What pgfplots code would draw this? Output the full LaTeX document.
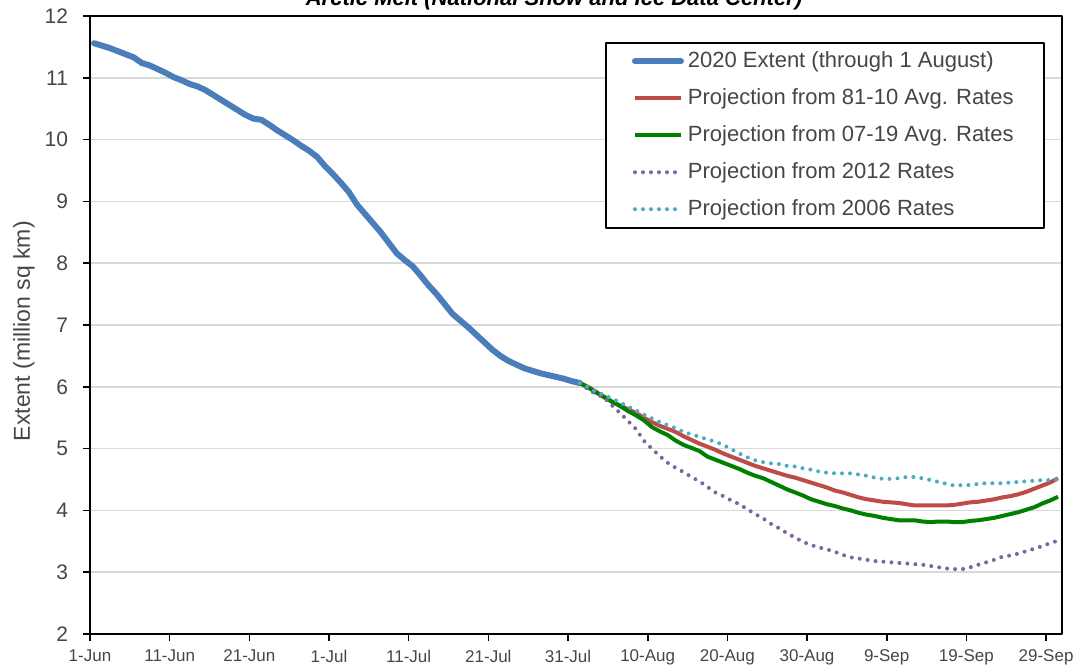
\documentclass[border=0pt]{standalone}
\usepackage{fontspec}
\setmainfont{Liberation Sans}
\usepackage{pgfplots}
\pgfplotsset{compat=1.18}
\usepackage{pgfplotstable}
\definecolor{cblue}{RGB}{74,126,187}
\definecolor{cred}{RGB}{190,75,72}
\definecolor{cgreen}{RGB}{0,128,0}
\definecolor{cpurple}{RGB}{128,100,162}
\definecolor{ccyan}{RGB}{75,172,198}
\definecolor{gridgray}{RGB}{217,217,217}
\definecolor{textgray}{RGB}{70,70,70}

\pgfplotstableread{
day val
0 11.56
1 11.52
2 11.48
3 11.43
4 11.38
5 11.33
6 11.24
7 11.20
8 11.14
9 11.08
10 11.01
11 10.96
12 10.90
13 10.86
14 10.80
15 10.72
16 10.64
17 10.56
18 10.48
19 10.40
20 10.34
21 10.32
22 10.24
23 10.15
24 10.07
25 9.99
26 9.90
27 9.82
28 9.72
29 9.57
30 9.44
31 9.30
32 9.15
33 8.95
34 8.80
35 8.65
36 8.50
37 8.33
38 8.16
39 8.05
40 7.95
41 7.80
42 7.64
43 7.50
44 7.34
45 7.18
46 7.07
47 6.96
48 6.84
49 6.72
50 6.60
51 6.50
52 6.42
53 6.36
54 6.30
55 6.26
56 6.22
57 6.19
58 6.16
59 6.13
60 6.09
61 6.06
}\extent

\pgfplotstableread{
day val
61 6.06
62 6.00
63 5.92
64 5.83
65 5.76
66 5.70
67 5.64
68 5.58
69 5.50
70 5.43
71 5.37
72 5.32
73 5.27
74 5.20
75 5.14
76 5.08
77 5.03
78 4.98
79 4.92
80 4.87
81 4.82
82 4.77
83 4.72
84 4.68
85 4.64
86 4.60
87 4.56
88 4.53
89 4.49
90 4.45
91 4.41
92 4.37
93 4.32
94 4.29
95 4.25
96 4.21
97 4.18
98 4.16
99 4.14
100 4.13
101 4.12
102 4.10
103 4.08
104 4.08
105 4.08
106 4.08
107 4.08
108 4.09
109 4.11
110 4.13
111 4.14
112 4.16
113 4.18
114 4.21
115 4.23
116 4.26
117 4.30
118 4.35
119 4.40
120 4.45
121 4.52
}\avgA

\pgfplotstableread{
day val
61 6.06
62 5.99
63 5.91
64 5.84
65 5.76
66 5.69
67 5.61
68 5.54
69 5.46
70 5.35
71 5.28
72 5.22
73 5.13
74 5.06
75 5.01
76 4.96
77 4.87
78 4.82
79 4.77
80 4.72
81 4.67
82 4.61
83 4.56
84 4.52
85 4.46
86 4.40
87 4.34
88 4.29
89 4.24
90 4.18
91 4.14
92 4.10
93 4.07
94 4.03
95 4.00
96 3.96
97 3.93
98 3.91
99 3.88
100 3.86
101 3.84
102 3.84
103 3.84
104 3.82
105 3.81
106 3.82
107 3.82
108 3.81
109 3.81
110 3.83
111 3.84
112 3.86
113 3.88
114 3.91
115 3.94
116 3.97
117 4.01
118 4.05
119 4.11
120 4.16
121 4.22
}\avgB

\pgfplotstableread{
day val
61 6.06
62 5.96
63 5.88
64 5.83
65 5.70
66 5.58
67 5.45
68 5.32
69 5.13
70 5.00
71 4.88
72 4.77
73 4.69
74 4.62
75 4.54
76 4.47
77 4.38
78 4.29
79 4.23
80 4.16
81 4.10
82 4.02
83 3.94
84 3.87
85 3.78
86 3.71
87 3.63
88 3.56
89 3.49
90 3.44
91 3.40
92 3.37
93 3.33
94 3.28
95 3.24
96 3.22
97 3.20
98 3.18
99 3.17
100 3.16
101 3.15
102 3.14
103 3.13
104 3.12
105 3.10
106 3.08
107 3.06
108 3.05
109 3.05
110 3.08
111 3.12
112 3.16
113 3.20
114 3.25
115 3.27
116 3.30
117 3.34
118 3.38
119 3.42
120 3.47
121 3.51
}\rateA

\pgfplotstableread{
day val
61 6.06
62 6.00
63 5.92
64 5.87
65 5.81
66 5.75
67 5.68
68 5.62
69 5.55
70 5.49
71 5.43
72 5.38
73 5.33
74 5.27
75 5.23
76 5.19
77 5.15
78 5.11
79 5.06
80 4.99
81 4.92
82 4.86
83 4.81
84 4.78
85 4.76
86 4.75
87 4.72
88 4.71
89 4.68
90 4.66
91 4.63
92 4.61
93 4.60
94 4.60
95 4.60
96 4.58
97 4.56
98 4.53
99 4.51
100 4.51
101 4.52
102 4.54
103 4.54
104 4.52
105 4.49
106 4.46
107 4.43
108 4.40
109 4.41
110 4.41
111 4.43
112 4.44
113 4.44
114 4.44
115 4.45
116 4.46
117 4.47
118 4.48
119 4.49
120 4.49
121 4.50
}\rateB

\begin{document}
\begin{tikzpicture}
\path[use as bounding box] (0,0) rectangle (542pt,334pt);
\begin{axis}[
  at={(45pt,17pt)}, anchor=south west,
  scale only axis, width=486pt, height=309pt,
  xmin=-0.5, xmax=121.5, ymin=2, ymax=12,
  ytick={2,3,...,12},
  xtick={-0.5,9.5,19.5,29.5,39.5,49.5,59.5,69.5,79.5,89.5,99.5,109.5,119.5},
  xticklabels={1-Jun,11-Jun,21-Jun,1-Jul,11-Jul,21-Jul,31-Jul,10-Aug,20-Aug,30-Aug,9-Sep,19-Sep,29-Sep},
  ymajorgrids, grid style={draw=gridgray, line width=0.75pt},
  axis line style={black, line width=1pt},
  tick align=outside, major tick length=3.5pt,
  tick style={black, line width=0.8pt},
  xtick pos=bottom, ytick pos=left,
  /pgf/number format/assume math mode=true,
  yticklabel style={font=\fontsize{10.5}{13}\selectfont, text=textgray, xshift=-4pt},
  xticklabel style={font=\fontsize{8.5}{10}\selectfont, text=textgray, yshift=-1pt},
  ylabel={Extent (million sq km)},
  ylabel style={font=\fontsize{11.5}{13}\selectfont, text=textgray, at={(axis description cs:-0.068,0.49)}, anchor=center},
  legend style={at={(axis description cs:0.5298,0.958)}, anchor=north west, draw=black, line width=1pt,
     font=\fontsize{11}{13}\selectfont, text=textgray, row sep=5pt, inner xsep=13pt, inner ysep=2.5pt},
  legend cell align=left,
  legend image code/.code={\draw[#1] (0pt,0pt) -- (23pt,0pt);},
  line join=round,
]
\addplot[cblue, line width=3pt, line cap=round] table[x=day,y=val] {\extent};
\addlegendentry{2020 Extent (through 1 August)}
\addplot[cred, line width=2pt] table[x=day,y=val] {\avgA};
\addlegendentry{Projection from 81-10 Avg. Rates}
\addplot[cgreen, line width=2pt] table[x=day,y=val] {\avgB};
\addlegendentry{Projection from 07-19 Avg. Rates}
\addplot[cpurple, line width=2pt, line cap=round, dash pattern=on 0pt off 4pt] table[x=day,y=val] {\rateA};
\addlegendentry{Projection from 2012 Rates}
\addplot[ccyan, line width=2pt, line cap=round, dash pattern=on 0pt off 4pt] table[x=day,y=val] {\rateB};
\addlegendentry{Projection from 2006 Rates}
\end{axis}
\node[anchor=base, font=\bfseries\itshape\fontsize{11}{13}\selectfont, text=black] at (277pt,331pt) {Arctic Melt (National Snow and Ice Data Center)};
\end{tikzpicture}
\end{document}
